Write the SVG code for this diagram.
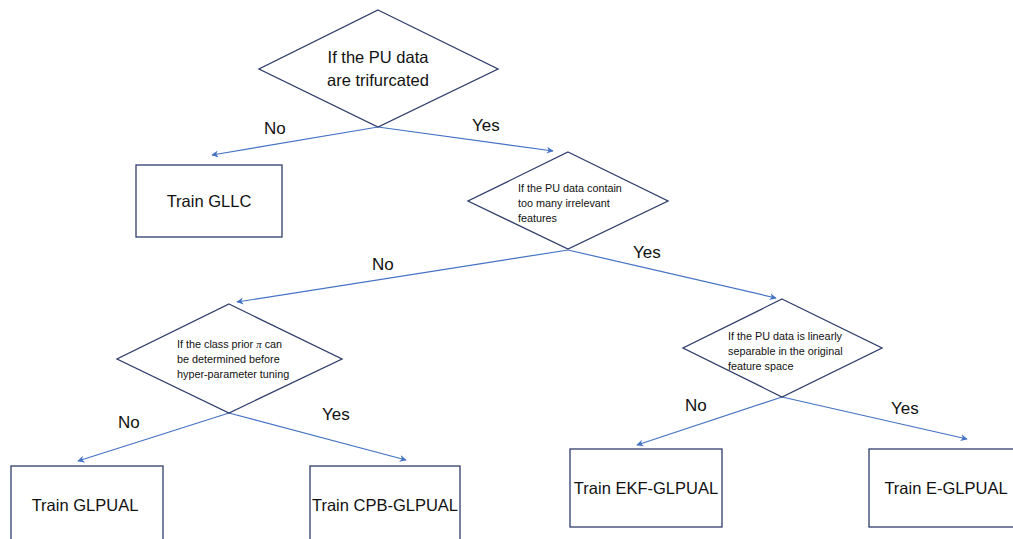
<svg xmlns="http://www.w3.org/2000/svg" width="1013" height="539" viewBox="0 0 1013 539">
<style>
.shape{fill:#ffffff;stroke:#2f3d6b;stroke-width:1.3}
.conn{stroke:#4472c4;stroke-width:1.2;fill:none}
.big{font-family:"Liberation Sans",Arial,sans-serif;font-size:16.5px;fill:#111}
.small{font-family:"Liberation Sans",Arial,sans-serif;font-size:10.8px;fill:#111}
.lbl{font-family:"Liberation Sans",Arial,sans-serif;font-size:17px;fill:#111}
</style>
<defs>
<marker id="arr" viewBox="0 0 10 10" refX="9" refY="5" markerWidth="7" markerHeight="7" markerUnits="userSpaceOnUse" orient="auto">
<path d="M0,0 L10,5 L0,10 L3,5 z" fill="#4472c4"/>
</marker>
</defs>
<rect width="1013" height="539" fill="#ffffff"/>
<g id="connectors">
<line class="conn" x1="378" y1="127" x2="212" y2="155" marker-end="url(#arr)"/>
<line class="conn" x1="378" y1="127" x2="553" y2="151" marker-end="url(#arr)"/>
<line class="conn" x1="568" y1="250" x2="237" y2="302" marker-end="url(#arr)"/>
<line class="conn" x1="568" y1="250" x2="776" y2="298" marker-end="url(#arr)"/>
<line class="conn" x1="229" y1="413" x2="78" y2="461" marker-end="url(#arr)"/>
<line class="conn" x1="229" y1="413" x2="406" y2="460" marker-end="url(#arr)"/>
<line class="conn" x1="782" y1="397" x2="637" y2="445" marker-end="url(#arr)"/>
<line class="conn" x1="782" y1="397" x2="967" y2="439" marker-end="url(#arr)"/>
<text class="lbl" x="264" y="134">No</text>
<text class="lbl" x="472" y="131">Yes</text>
<text class="lbl" x="372" y="270">No</text>
<text class="lbl" x="633" y="258">Yes</text>
<text class="lbl" x="118" y="428">No</text>
<text class="lbl" x="322" y="420">Yes</text>
<text class="lbl" x="685" y="411">No</text>
<text class="lbl" x="891" y="414">Yes</text>
</g>
<g id="q1">
<polygon class="shape" points="378,10 498,69 378,127 259,69"/>
<text class="big" x="378" y="63" text-anchor="middle">If the PU data</text>
<text class="big" x="378" y="86" text-anchor="middle">are trifurcated</text>
</g>
<g id="gllc">
<rect class="shape" x="136" y="165" width="146" height="72"/>
<text class="big" x="209" y="207" text-anchor="middle">Train GLLC</text>
</g>
<g id="q2">
<polygon class="shape" points="568,152 668,201 568,249 468,201"/>
<text class="small" x="518" y="192">If the PU data contain</text>
<text class="small" x="518" y="207">too many irrelevant</text>
<text class="small" x="518" y="222">features</text>
</g>
<g id="q3">
<polygon class="shape" points="229,304 342,359 229,413 117,359"/>
<text class="small" x="177" y="348">If the class prior <tspan font-family="Liberation Serif" font-style="italic">π</tspan> can</text>
<text class="small" x="177" y="363">be determined before</text>
<text class="small" x="177" y="378">hyper-parameter tuning</text>
</g>
<g id="q4">
<polygon class="shape" points="782,299 882,348 782,397 683,348"/>
<text class="small" x="728" y="340">If the PU data is linearly</text>
<text class="small" x="728" y="355">separable in the original</text>
<text class="small" x="728" y="370">feature space</text>
</g>
<g id="glpual">
<rect class="shape" x="11" y="466" width="152" height="90"/>
<text class="big" x="85" y="511" text-anchor="middle">Train GLPUAL</text>
</g>
<g id="cpb">
<rect class="shape" x="310" y="466" width="150" height="90"/>
<text class="big" x="385" y="511" text-anchor="middle">Train CPB-GLPUAL</text>
</g>
<g id="ekf">
<rect class="shape" x="570" y="449" width="152" height="78"/>
<text class="big" x="646" y="494" text-anchor="middle">Train EKF-GLPUAL</text>
</g>
<g id="eglpual">
<rect class="shape" x="869" y="449" width="152" height="78"/>
<text class="big" x="946" y="494" text-anchor="middle">Train E-GLPUAL</text>
</g>
</svg>
